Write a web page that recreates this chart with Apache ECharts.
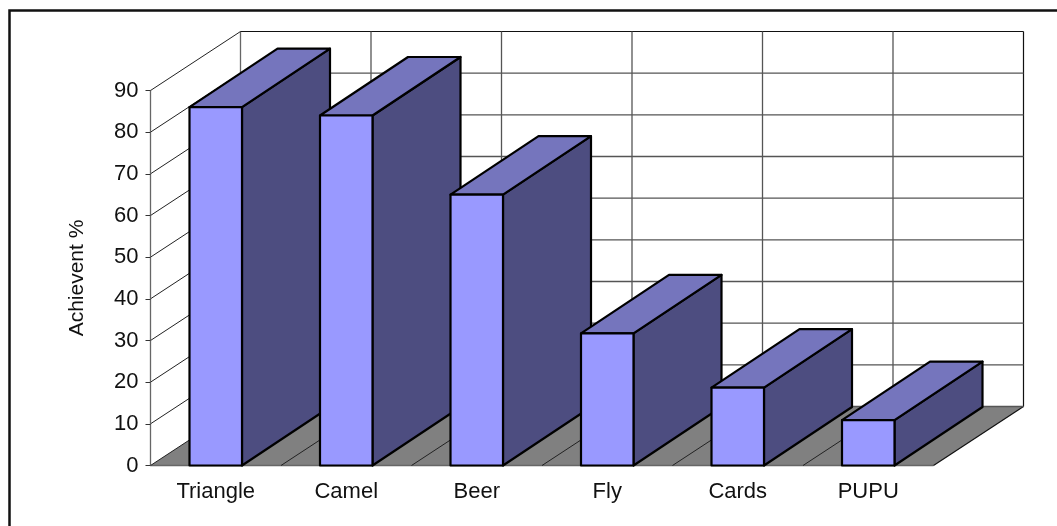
<!DOCTYPE html>
<html>
<head>
<meta charset="utf-8">
<style>
  html, body { margin: 0; padding: 0; background: #fff; }
  #chart { width: 1057px; height: 526px; }
</style>
<script src="https://cdn.jsdelivr.net/npm/echarts@6/dist/echarts.min.js"></script>
</head>
<body>
<div id="chart"></div>
<script>
// Achievement per activity
const categories = ['Triangle', 'Camel', 'Beer', 'Fly', 'Cards', 'PUPU'];
const achievement = [86, 84, 65, 31.7, 18.7, 10.9];
const yTicks = [0, 10, 20, 30, 40, 50, 60, 70, 80, 90];

// Oblique projection of the chart box and of the columns inside it
const WALL_DX = 90, WALL_DY = 59;
const BAR_DX = 88, BAR_DY = 58.5;
const BAR_WIDTH = 52.5;
const FONT = '"Liberation Sans", Arial, sans-serif';

const FRONT = '#9999ff', TOP = '#7575bd', SIDE = '#4d4d80';
const WALL_LINE = { stroke: '#555', lineWidth: 1.3 };
const EDGE_LINE = { stroke: '#111', lineWidth: 1.2 };

const line = (x1, y1, x2, y2, style) => ({
  type: 'line', shape: { x1, y1, x2, y2 }, style
});
const poly = (points, fill, stroke, lineWidth) => ({
  type: 'polygon', shape: { points },
  style: { fill, stroke, lineWidth, lineJoin: 'round' }
});

// Floor plate and the outer edges of the box
function renderFloor(params, api) {
  const r = params.coordSys;
  const bottom = r.y + r.height, right = r.x + r.width;
  return {
    type: 'group',
    children: [
      poly([[r.x, bottom], [r.x + WALL_DX, bottom - WALL_DY],
            [right + WALL_DX, bottom - WALL_DY], [right, bottom]], '#808080', null, 0),
      line(r.x, bottom, right, bottom, { stroke: '#666', lineWidth: 1.3 }),
      line(right, bottom, right + WALL_DX, bottom - WALL_DY, EDGE_LINE),
      line(r.x + WALL_DX, r.y - WALL_DY, r.x + WALL_DX, bottom - WALL_DY, { stroke: '#666', lineWidth: 1.3 }),
      line(right + WALL_DX, r.y - WALL_DY, right + WALL_DX, bottom - WALL_DY, EDGE_LINE)
    ]
  };
}

// One value level: a diagonal on the side wall and a rule along the back wall
function renderLevel(params, api) {
  const r = params.coordSys;
  const y = api.coord([0, api.value(1)])[1];
  const top = api.value(1) === yTicks[yTicks.length - 1];
  const style = top ? EDGE_LINE : WALL_LINE;
  const children = [
    line(r.x, y, r.x + WALL_DX, y - WALL_DY, { stroke: '#222', lineWidth: 1 }),
    line(r.x + WALL_DX, y - WALL_DY, r.x + r.width + WALL_DX, y - WALL_DY, style)
  ];
  return { type: 'group', children };
}

// One category boundary: a line across the floor and up the back wall
function renderDivider(params, api) {
  const r = params.coordSys;
  const bottom = r.y + r.height;
  const x = api.coord([api.value(0), 0])[0] + api.size([1, 0])[0] / 2;
  return {
    type: 'group',
    children: [
      line(x, bottom, x + WALL_DX, bottom - WALL_DY, { stroke: '#222', lineWidth: 1 }),
      line(x + WALL_DX, bottom - WALL_DY, x + WALL_DX, r.y - WALL_DY, WALL_LINE)
    ]
  };
}

// Column with front, top and side faces
function renderBar(params, api) {
  const c = api.coord([api.value(0), api.value(1)]);
  const base = api.coord([api.value(0), 0])[1];
  const l = c[0] - BAR_WIDTH / 2, r = c[0] + BAR_WIDTH / 2, t = c[1];
  return {
    type: 'group',
    children: [
      poly([[r, t], [r + BAR_DX, t - BAR_DY], [r + BAR_DX, base - BAR_DY], [r, base]], SIDE, '#000', 2.2),
      poly([[l, t], [l + BAR_DX, t - BAR_DY], [r + BAR_DX, t - BAR_DY], [r, t]], TOP, '#000', 2.2),
      poly([[l, t], [r, t], [r, base], [l, base]], FRONT, '#000', 2.2)
    ]
  };
}

const chart = echarts.init(document.getElementById('chart'), null, { renderer: 'canvas' });
chart.setOption({
  animation: false,
  backgroundColor: '#fff',
  grid: { left: 150.5, top: 90.5, width: 783, height: 375, containLabel: false },
  graphic: [
    { type: 'polyline', silent: true,
      shape: { points: [[9.5, 526], [9.5, 10.5], [1057, 10.5]] },
      style: { stroke: '#111', lineWidth: 2.5, fill: null } }
  ],
  xAxis: {
    type: 'category',
    data: categories,
    axisLine: { show: false },
    axisTick: { show: false },
    axisLabel: { color: '#111', fontFamily: FONT, fontSize: 22, margin: 15 }
  },
  yAxis: {
    type: 'value', min: 0, max: 90, interval: 10,
    name: 'Achievent %',
    nameLocation: 'middle',
    nameRotate: 90,
    nameGap: 63,
    nameTextStyle: { color: '#111', fontFamily: FONT, fontSize: 21 },
    z: 6,
    axisLine: { show: true, lineStyle: { color: '#666', width: 1.3 } },
    axisTick: { show: true, length: 5, lineStyle: { color: '#333', width: 1 } },
    axisLabel: { color: '#111', fontFamily: FONT, fontSize: 22, margin: 12,
                 formatter: v => String(v) },
    splitLine: { show: false }
  },
  series: [
    { type: 'custom', name: 'floor', clip: false, z: 1, silent: true,
      data: [[0, 0]], renderItem: renderFloor },
    { type: 'custom', name: 'levels', clip: false, z: 2, silent: true,
      data: yTicks.map(v => [0, v]), renderItem: renderLevel },
    { type: 'custom', name: 'dividers', clip: false, z: 2, silent: true,
      data: categories.slice(0, -1).map((_, i) => [i, 0]), renderItem: renderDivider },
    { type: 'custom', name: 'Achievent %', clip: false, z: 3,
      encode: { x: 0, y: 1 },
      data: categories.map((_, i) => [i, achievement[i]]), renderItem: renderBar }
  ]
});
</script>
</body>
</html>
